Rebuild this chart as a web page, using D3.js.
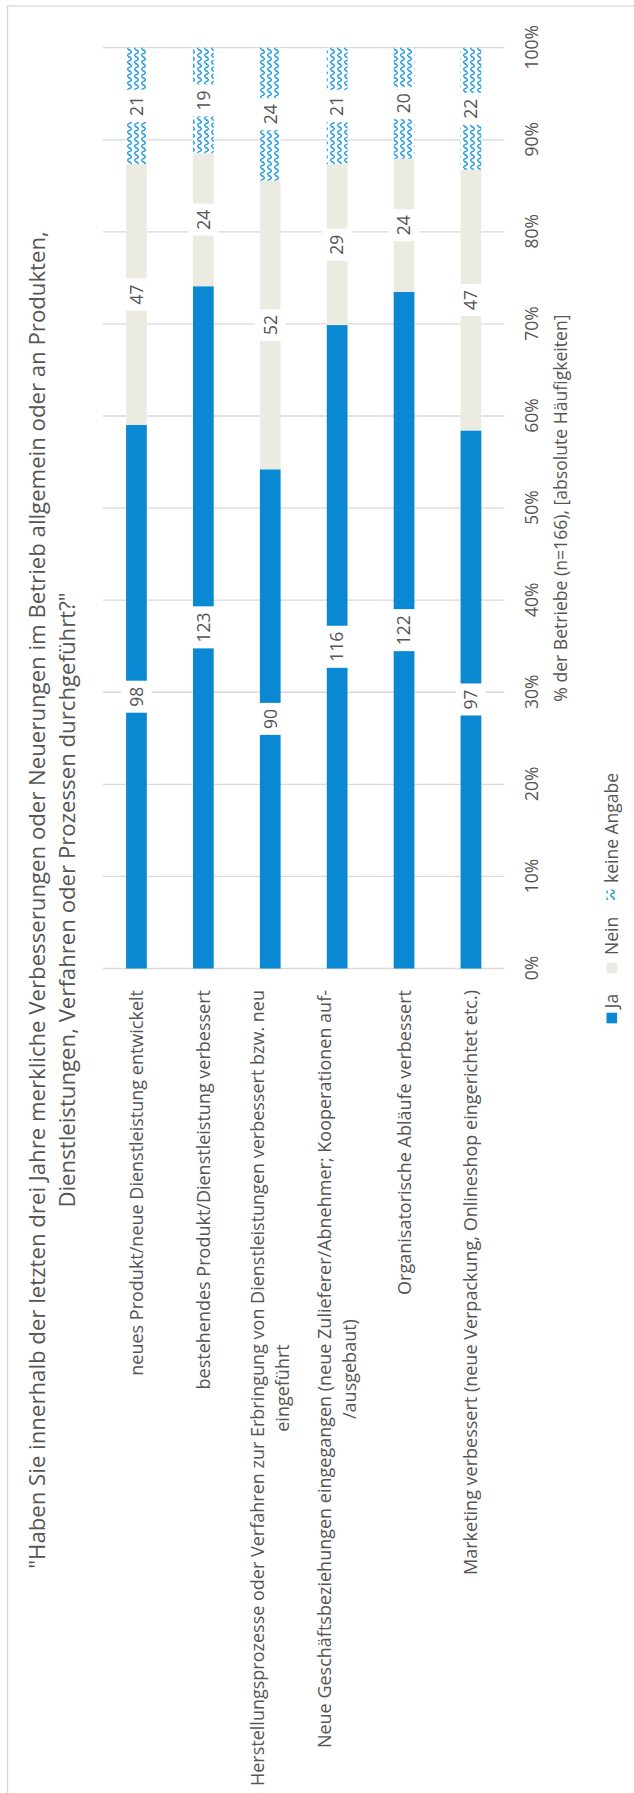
<!DOCTYPE html>
<html>
<head>
<meta charset="utf-8">
<script src="https://cdn.jsdelivr.net/npm/d3@7/dist/d3.min.js"></script>
<style>
  body { margin: 0; background: #fff; }
  svg { display: block; }
  text { font-family: "Open Sans", sans-serif; fill: #555555; }
</style>
</head>
<body>
<svg id="chart" width="634" height="1793"></svg>
<script>
// Survey answers per innovation type (absolute counts, n = 166)
const categories = [
  "neues Produkt/neue Dienstleistung entwickelt",
  "bestehendes Produkt/Dienstleistung verbessert",
  "Herstellungsprozesse oder Verfahren zur Erbringung von Dienstleistungen verbessert bzw. neu\neingeführt",
  "Neue Geschäftsbeziehungen eingegangen (neue Zulieferer/Abnehmer; Kooperationen auf-\n/ausgebaut)",
  "Organisatorische Abläufe verbessert",
  "Marketing verbessert (neue Verpackung, Onlineshop eingerichtet etc.)"
];
const jaValues    = [98, 123, 90, 116, 122, 97];
const neinValues  = [47, 24, 52, 29, 24, 47];
const keineValues = [21, 19, 24, 21, 20, 22];
const seriesKeys  = ["ja", "nein", "keine"];
const seriesNames = ["Ja", "Nein", "keine Angabe"];
const tickValues  = [0, 0.1, 0.2, 0.3, 0.4, 0.5, 0.6, 0.7, 0.8, 0.9, 1];
const tickLabels  = ["0%", "10%", "20%", "30%", "40%", "50%", "60%", "70%", "80%", "90%", "100%"];
const titleLines  = [
  "\"Haben Sie innerhalb der letzten drei Jahre merkliche Verbesserungen oder Neuerungen im Betrieb allgemein oder an Produkten,",
  "Dienstleistungen, Verfahren oder Prozessen durchgeführt?\""
];
const axisTitle = "% der Betriebe (n=166), [absolute Häufigkeiten]";

const rows = categories.map((c, i) => ({
  cat: c, ja: jaValues[i], nein: neinValues[i], keine: keineValues[i]
}));

const W = 634, H = 1793;
const svg = d3.select("#chart");

// wave pattern for "keine Angabe"
const defs = svg.append("defs");
const pat = defs.append("pattern")
  .attr("id", "wave")
  .attr("patternUnits", "userSpaceOnUse")
  .attr("width", 7).attr("height", 7);
pat.append("rect").attr("width", 7).attr("height", 7).attr("fill", "#fff");
pat.append("path")
  .attr("d", "M-0.5,5 C0.8,0.8 2.6,0.8 3.5,3.5 S6.2,6.2 7.5,2")
  .attr("fill", "none").attr("stroke", "#1a98de").attr("stroke-width", 1.35);

const colors = { ja: "#0a89d2", nein: "#ecebe2", keine: "url(#wave)" };

// landscape drawing surface, turned to portrait
const g = svg.append("g").attr("transform", `translate(0,${H}) rotate(-90)`);

// outer frame
g.append("rect")
  .attr("x", -5).attr("y", 7.5)
  .attr("width", 1792).attr("height", 640)
  .attr("fill", "none").attr("stroke", "#d9d9d9").attr("stroke-width", 1.3);

const x = d3.scaleLinear().domain([0, 1]).range([824.5, 1745.3]);
const y = d3.scaleBand().domain(categories).range([103, 504.4])
  .paddingInner(0.69).paddingOuter(0.345);

// gridlines
g.append("g").selectAll("line").data(tickValues).join("line")
  .attr("x1", d => x(d)).attr("x2", d => x(d))
  .attr("y1", 103).attr("y2", 504.4)
  .attr("stroke", "#d9d9d9").attr("stroke-width", 1.3);

// value axis labels
const axis = d3.axisBottom(x).tickValues(tickValues)
  .tickFormat((d, i) => tickLabels[i]).tickSize(0).tickPadding(21.5);
const ax = g.append("g").attr("transform", "translate(0,504.4)").call(axis);
ax.select(".domain").remove();
ax.selectAll("text").style("font-size", "17.5px").attr("fill", "#555555");

// axis title
g.append("text")
  .attr("x", (x(0) + x(1)) / 2).attr("y", 567)
  .attr("text-anchor", "middle").style("font-size", "17.6px")
  .text(axisTitle);

// stacked bars
const stack = d3.stack().keys(seriesKeys).offset(d3.stackOffsetExpand);
const series = stack(rows);

g.append("g").selectAll("g").data(series).join("g")
  .attr("fill", d => colors[d.key])
  .selectAll("rect").data(d => d).join("rect")
  .attr("x", d => x(d[0]))
  .attr("width", d => x(d[1]) - x(d[0]))
  .attr("y", d => y(d.data.cat))
  .attr("height", y.bandwidth());

// value labels with white boxes
const labelLayer = g.append("g");
series.forEach(s => {
  s.forEach(d => {
    const cx = (x(d[0]) + x(d[1])) / 2;
    const cy = y(d.data.cat) + y.bandwidth() / 2;
    const lg = labelLayer.append("g");
    const box = lg.append("rect").attr("fill", "#fff");
    const t = lg.append("text")
      .attr("x", cx).attr("y", cy).attr("dy", "0.36em")
      .attr("text-anchor", "middle").style("font-size", "17.5px")
      .text(d.data[s.key]);
    const w = t.node().getComputedTextLength() + 12;
    box.attr("x", cx - w / 2).attr("y", cy - 15).attr("width", w).attr("height", 30);
  });
});

// category labels: right aligned block, centred lines
const catLayer = g.append("g");
categories.forEach(c => {
  const lines = c.split("\n");
  const lh = 24.5;
  const cy = y(c) + y.bandwidth() / 2;
  const t = catLayer.append("text").style("font-size", "18px").attr("text-anchor", "middle");
  const spans = lines.map((ln, i) => t.append("tspan")
    .attr("y", cy + (i - (lines.length - 1) / 2) * lh).attr("dy", "0.36em").text(ln));
  const widths = spans.map(sp => sp.node().getComputedTextLength());
  const maxW = Math.max(...widths);
  const right = 803;
  spans.forEach(sp => sp.attr("x", right - maxW / 2));
});

// title
const tt = g.append("text").attr("text-anchor", "middle").style("font-size", "22.2px");
titleLines.forEach((ln, i) => {
  tt.append("tspan").attr("x", 893).attr("y", 45 + i * 30).text(ln);
});

// legend
const legend = g.append("g");
const legendItems = [
  { key: "ja", sx: 769.7, tx: 784.7 },
  { key: "nein", sx: 819.7, tx: 838 },
  { key: "keine", sx: 893, tx: 910 }
];
legendItems.forEach((it, i) => {
  legend.append("rect")
    .attr("x", it.sx).attr("y", 606.5).attr("width", 10.6).attr("height", 10.6)
    .attr("fill", colors[it.key]);
  legend.append("text")
    .attr("x", it.tx).attr("y", 612).attr("dy", "0.36em")
    .style("font-size", "17.5px").text(seriesNames[i]);
});
</script>
</body>
</html>
